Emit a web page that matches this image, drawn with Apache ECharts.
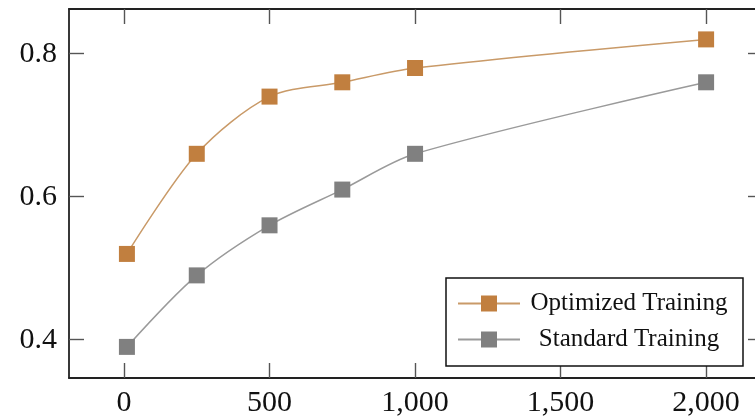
<!DOCTYPE html>
<html>
<head>
<meta charset="utf-8">
<script src="https://cdn.jsdelivr.net/npm/echarts@6/dist/echarts.min.js"></script>
<style>
  html, body { margin: 0; padding: 0; background: #fff; }
  #chart { width: 755px; height: 418px; }
</style>
</head>
<body>
<div id="chart"></div>
<script>
  // Datos
  const steps = [10, 250, 500, 750, 1000, 2000];
  const optimized = [0.52, 0.66, 0.74, 0.76, 0.78, 0.82];
  const standard = [0.39, 0.49, 0.56, 0.61, 0.66, 0.76];
  const xTicks = [0, 500, 1000, 1500, 2000];
  const yTicks = [0.4, 0.6, 0.8];

  const serif = 'Liberation Serif';
  const axisLineStyle = { color: '#222', width: 1.8 };
  const tickStyle = { color: '#555', width: 1.4 };

  const pairs = (ys) => steps.map((x, i) => [x, ys[i]]);

  // El marco derecho queda fuera de la imagen: max corta el eje en el borde del lienzo
  const makeX = (pos, showLabel) => ({
    type: 'value',
    position: pos,
    min: -189,
    max: 2168,
    splitLine: { show: false },
    axisLine: { show: true, onZero: false, lineStyle: axisLineStyle },
    axisTick: { show: true, inside: true, length: 15, customValues: xTicks, lineStyle: tickStyle },
    axisLabel: {
      show: showLabel,
      customValues: xTicks,
      margin: 10,
      fontFamily: serif,
      fontSize: 30,
      color: '#111',
      formatter: (v) => v.toLocaleString('en-US')
    }
  });

  const makeY = (pos, showLabel) => ({
    type: 'value',
    position: pos,
    min: 0.3465,
    max: 0.8625,
    splitLine: { show: false },
    axisLine: { show: showLabel, onZero: false, lineStyle: axisLineStyle },
    axisTick: {
      show: true,
      inside: true,
      length: showLabel ? 15 : 7,
      customValues: yTicks,
      lineStyle: tickStyle
    },
    axisLabel: {
      show: showLabel,
      customValues: yTicks,
      margin: 12,
      fontFamily: serif,
      fontSize: 30,
      color: '#111',
      formatter: (v) => v.toFixed(1)
    }
  });

  const chart = echarts.init(document.getElementById('chart'), null, { renderer: 'canvas' });

  chart.setOption({
    animation: false,
    backgroundColor: '#fff',
    grid: { left: 69, right: 0, top: 9, bottom: 40, containLabel: false },
    xAxis: [makeX('bottom', true), makeX('top', false)],
    yAxis: [makeY('left', true), makeY('right', false)],
    legend: {
      orient: 'vertical',
      left: 446,
      top: 278,
      width: 297,
      itemWidth: 62,
      itemHeight: 20,
      itemGap: 11,
      padding: [13, 10, 14, 11],
      borderColor: '#111',
      borderWidth: 1.5,
      backgroundColor: '#fff',
      formatter: (name) => '{t|' + name + '}',
      textStyle: {
        rich: {
          t: { width: 208, align: 'center', fontFamily: serif, fontSize: 25, color: '#111', lineHeight: 26 }
        }
      },
      data: ['Optimized Training', 'Standard Training']
    },
    series: [
      {
        name: 'Optimized Training',
        type: 'line',
        smooth: 0.3,
        data: pairs(optimized),
        symbol: 'rect',
        symbolSize: 16,
        itemStyle: { color: '#C17F3F' },
        lineStyle: { color: '#C99A68', width: 1.5 }
      },
      {
        name: 'Standard Training',
        type: 'line',
        smooth: 0.3,
        data: pairs(standard),
        symbol: 'rect',
        symbolSize: 16,
        itemStyle: { color: '#808080' },
        lineStyle: { color: '#9a9a9a', width: 1.5 }
      }
    ]
  });
</script>
</body>
</html>
